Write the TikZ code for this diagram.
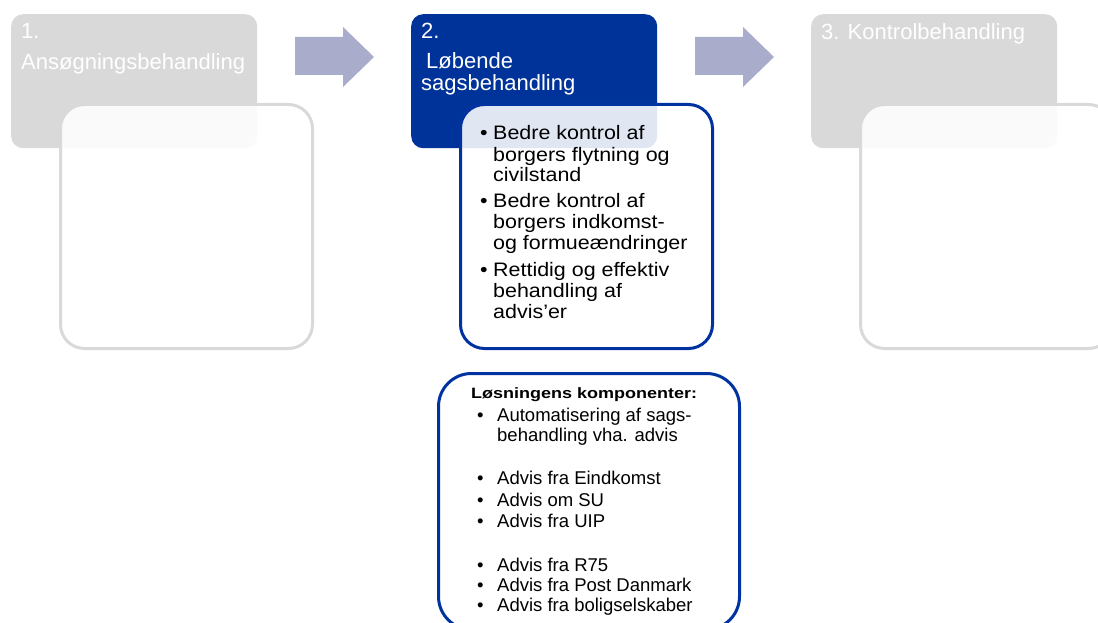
\documentclass[tikz,border=0pt]{standalone}
\usepackage{fontspec}
\setmainfont{Liberation Sans}
\newfontfamily\widefont{Liberation Sans}[FakeStretch=1.1]
\newfontfamily\titlewide{Liberation Sans}[FakeStretch=1.2]
\definecolor{hdrgray}{HTML}{D9D9D9}
\definecolor{hdrblue}{HTML}{003399}
\definecolor{cardblue}{HTML}{0033A0}
\definecolor{arrowgray}{HTML}{A9ADCB}
\begin{document}
\begin{tikzpicture}[x=1pt,y=-1pt,
  hdrbox/.style={rounded corners=12pt, inner sep=0pt, anchor=north west,
    minimum width=246pt, minimum height=134pt},
  cardbox/.style={draw, line width=3pt, fill=white, fill opacity=0.88,
    rounded corners=24pt, inner sep=0pt, anchor=north west,
    minimum width=252pt, minimum height=244pt},
  hdrtext/.style={anchor=base west, inner sep=0pt, text=white,
    font=\fontsize{22}{24}\selectfont},
  itemtext/.style={anchor=base west, inner sep=0pt,
    font=\widefont\fontsize{19.5}{21}\selectfont},
  subtext/.style={anchor=base west, inner sep=0pt,
    font=\fontsize{18.5}{20}\selectfont},
  blockarrow/.style={fill=arrowgray}
]
\useasboundingbox (0,0) rectangle (1098,623);

% phase 1
\node[hdrbox, fill=hdrgray] (hdr1) at (11,14) {};
\node[cardbox, draw=hdrgray] (card1) at (59,103) {};
\node[hdrtext] (n1) at (21,39) {1.};
\node[hdrtext] (t1) at (21,70) {Ansøgningsbehandling};

% phase 2
\node[hdrbox, fill=hdrblue] (hdr2) at (411,14) {};
\node[cardbox, draw=cardblue] (card2) at (459,103) {};
\node[hdrtext] (n2) at (421,39) {2.};
\node[hdrtext] (t2a) at (426,69) {Løbende};
\node[hdrtext] (t2b) at (421,91) {sagsbehandling};

% phase 3
\node[hdrbox, fill=hdrgray] (hdr3) at (811,14) {};
\node[cardbox, draw=hdrgray] (card3) at (859,103) {};
\node[hdrtext] (t3) at (821,40) {3. Kontrolbehandling};

% block arrows between the phases
\fill[blockarrow] (295,37) -- (343,37) -- (343,27) -- (374,57) -- (343,87) -- (343,75) -- (295,75) -- cycle;
\fill[blockarrow] (695,37) -- (743,37) -- (743,27) -- (774,57) -- (743,87) -- (743,75) -- (695,75) -- cycle;

% goals of phase 2
\foreach \yy [count=\i] in {140,207.5,276}
  \node[itemtext] (gb\i) at (480,\yy) {•};
\foreach \yy/\tx [count=\i] in {140/Bedre kontrol af, 161/borgers flytning og, 182/civilstand,
    207.5/Bedre kontrol af, 228.5/borgers indkomst-, 249.5/og formueændringer,
    276/Rettidig og effektiv, 297/behandling af, 318/advis’er}
  \node[itemtext] (g\i) at (493,\yy) {\tx};

% solution components
\node[draw=cardblue, line width=3pt, fill=white, rounded corners=33pt,
  inner sep=0pt, anchor=north west, minimum width=301pt, minimum height=256pt] (comp) at (437,372) {};
\node[anchor=base west, inner sep=0pt, font=\titlewide\bfseries\fontsize{15}{17}\selectfont]
  (ctitle) at (471,398) {Løsningens komponenter:};
\foreach \yy [count=\i] in {421,484,506.5,527,571,591,611}
  \node[subtext] (cb\i) at (477,\yy) {•};
\foreach \yy/\tx [count=\i] in {421/Automatisering af sags-, 441/behandling vha. advis,
    484/Advis fra Eindkomst, 506.5/Advis om SU, 527/Advis fra UIP,
    571/Advis fra R75, 591/Advis fra Post Danmark, 611/Advis fra boligselskaber}
  \node[subtext] (c\i) at (497,\yy) {\tx};
\end{tikzpicture}
\end{document}
